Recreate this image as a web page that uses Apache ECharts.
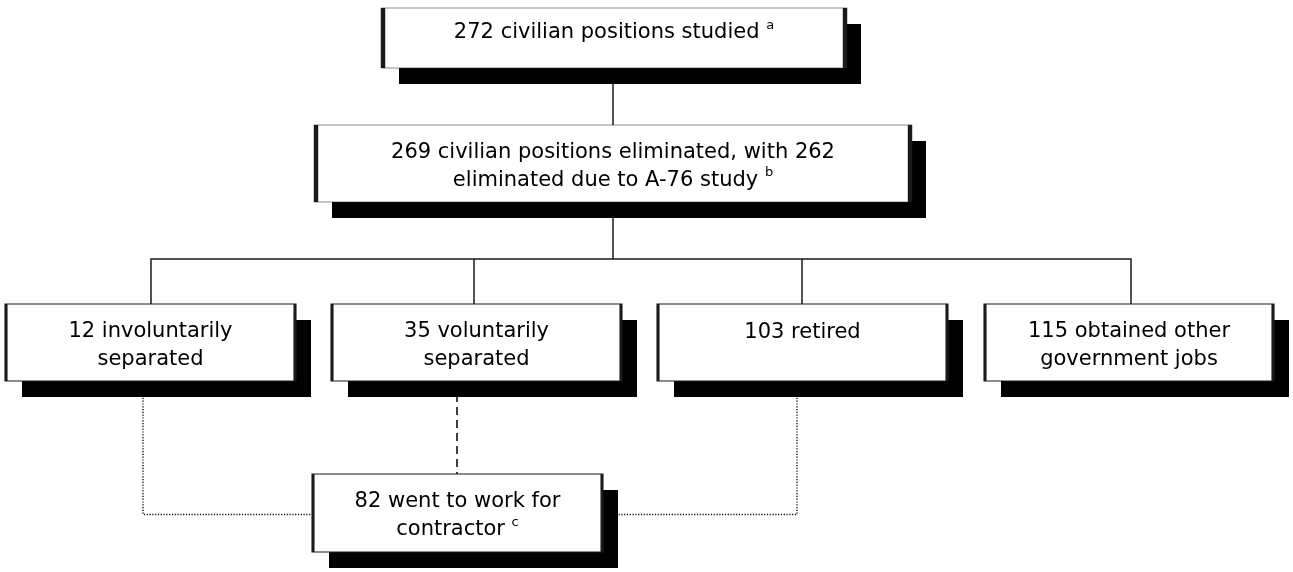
<!DOCTYPE html>
<html>
<head>
<meta charset="utf-8">
<script src="https://cdn.jsdelivr.net/npm/echarts@6/dist/echarts.min.js"></script>
<style>
  html, body { margin: 0; padding: 0; background: #fff; }
  #main { width: 1293px; height: 572px; }
</style>
</head>
<body>
<div id="main"></div>
<script>
// box texts, {s|x} = footnote mark
var boxText = [
    '272 civilian positions studied {s|a}',
    '269 civilian positions eliminated, with 262\neliminated due to A-76 study {s|b}',
    '12 involuntarily\nseparated',
    '35 voluntarily\nseparated',
    '103 retired',
    '115 obtained other\ngovernment jobs',
    '82 went to work for\ncontractor {s|c}'
];
// box centres and sizes (chart units = pixels)
var boxX = [614, 613, 150.5, 476.5, 802.5, 1129, 457.5];
var boxY = [38, 163.5, 342.5, 342.5, 342.5, 342.5, 513];
var boxW = [462, 594, 289, 289, 289, 288, 289];
var boxH = [60, 77, 77, 77, 77, 77, 78];
// connectors
var solidLinks = [
    [[613, 68], [613, 125]],
    [[613, 202], [613, 259]],
    [[151, 304], [151, 259], [1131, 259], [1131, 304]],
    [[474, 259], [474, 304]],
    [[802, 259], [802, 304]]
];
var dashedLinks = [
    [[457, 381], [457, 474]]
];
var dottedLinks = [
    [[143, 381], [143, 514.5], [313, 514.5]],
    [[797, 381], [797, 514.5], [602, 514.5]]
];

var chart = echarts.init(document.getElementById('main'));

function boxData(withLabel) {
    return boxText.map(function (t, i) {
        var item = {
            name: t,
            value: [boxX[i], boxY[i]],
            symbolSize: [boxW[i], boxH[i]]
        };
        if (withLabel && t.indexOf('\n') < 0) {
            item.label = { offset: [0, i === 0 ? -5 : -10] };
        }
        return item;
    });
}

function linkData(list) {
    return list.map(function (c) { return { coords: c }; });
}

var option = {
    animation: false,
    grid: { left: 0, right: 0, top: 0, bottom: 0 },
    xAxis: { type: 'value', min: 0, max: 1293, show: false },
    yAxis: { type: 'value', min: 0, max: 572, inverse: true, show: false },
    series: [
        {
            type: 'lines',
            coordinateSystem: 'cartesian2d',
            polyline: true,
            z: 1,
            silent: true,
            data: linkData(solidLinks),
            lineStyle: { color: '#1a1a1a', width: 1.5, type: 'solid', opacity: 1 }
        },
        {
            type: 'lines',
            coordinateSystem: 'cartesian2d',
            polyline: true,
            z: 1,
            silent: true,
            data: linkData(dashedLinks),
            lineStyle: { color: '#111', width: 1.6, type: [8, 5], opacity: 1 }
        },
        {
            type: 'lines',
            coordinateSystem: 'cartesian2d',
            polyline: true,
            z: 1,
            silent: true,
            data: linkData(dottedLinks),
            lineStyle: { color: '#111', width: 1.4, type: [1.2, 1.6], opacity: 1 }
        },
        // white boxes with their black drop shadow
        {
            type: 'scatter',
            z: 3,
            symbol: 'rect',
            clip: false,
            silent: true,
            data: boxData(false),
            itemStyle: {
                color: '#fff',
                borderWidth: 0,
                opacity: 1,
                shadowBlur: 0,
                shadowOffsetX: 16,
                shadowOffsetY: 16,
                shadowColor: '#000'
            },
            label: { show: false }
        },
        // outlines and texts
        {
            type: 'scatter',
            z: 4,
            symbol: 'rect',
            clip: false,
            silent: true,
            data: boxData(true),
            itemStyle: {
                color: 'rgba(0,0,0,0)',
                borderColor: '#1a1a1a',
                borderWidth: 1.6,
                opacity: 1
            },
            label: {
                show: true,
                position: 'inside',
                offset: [0, 3],
                formatter: '{b}',
                color: '#000',
                fontFamily: 'DejaVu Sans',
                fontSize: 21,
                lineHeight: 28,
                align: 'center',
                rich: {
                    s: { fontFamily: 'DejaVu Sans', fontSize: 13, lineHeight: 14, verticalAlign: 'top', color: '#000' }
                }
            }
        }
    ]
};
chart.setOption(option);
</script>
</body>
</html>
